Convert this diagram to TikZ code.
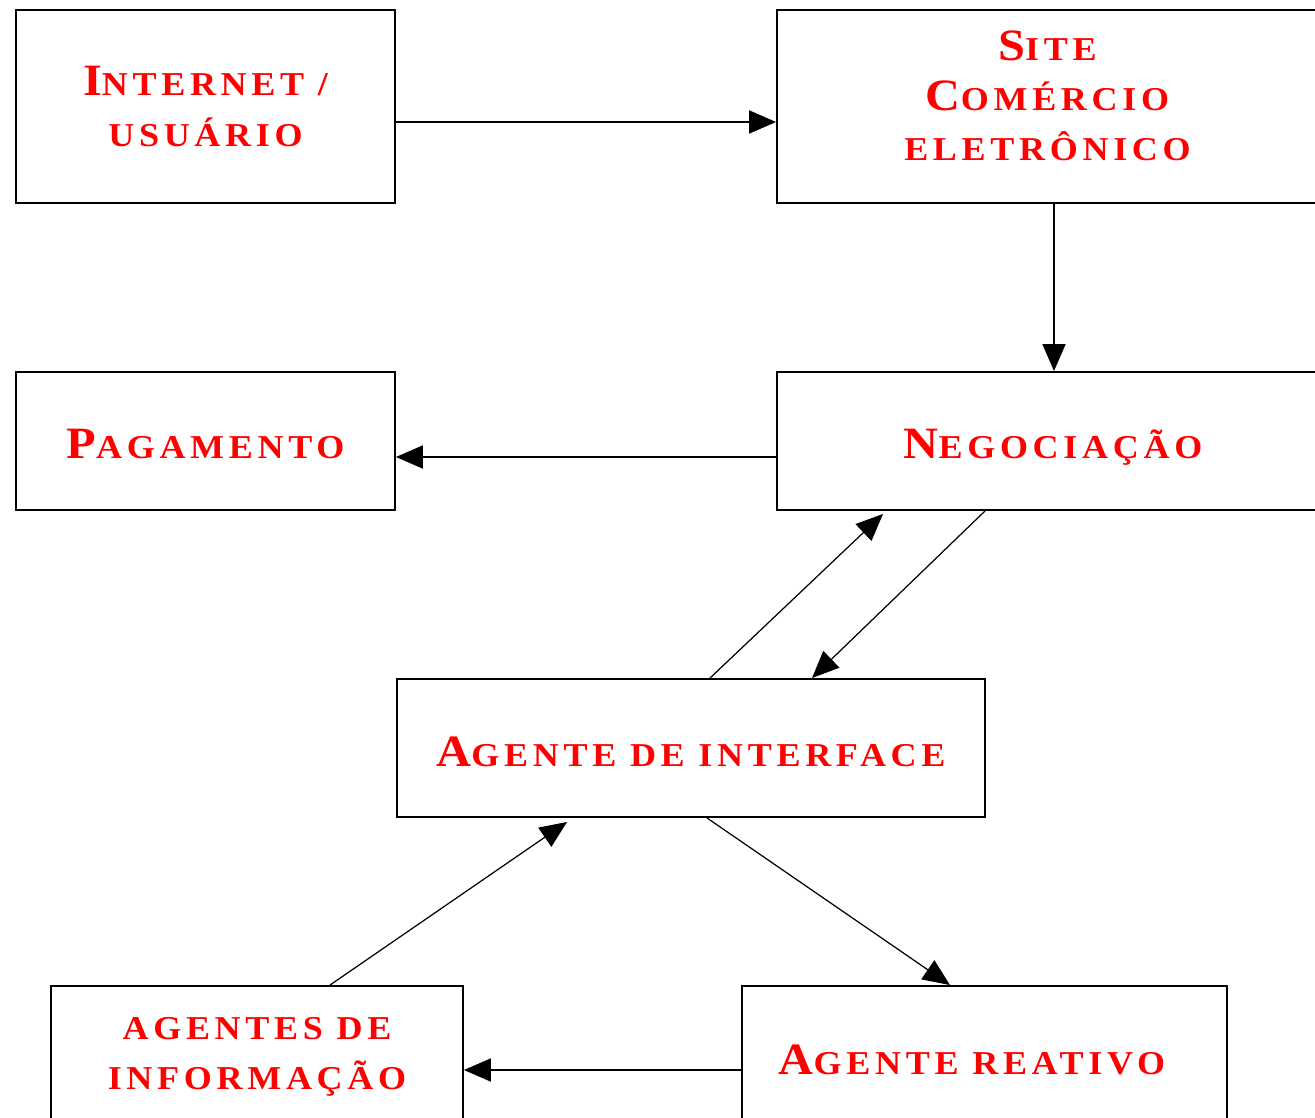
\documentclass[tikz,border=0pt]{standalone}
\usepackage{fontspec}
\newfontfamily\caixafont{Liberation Serif}[LetterSpace=14, FakeStretch=1.08]
\newcommand{\inicial}[1]{{\fontsize{25.5}{28.5}\selectfont #1}}
\usetikzlibrary{arrows.meta, positioning}

\begin{document}
\begin{tikzpicture}[x=0.02cm, y=-0.02cm,
    caixa/.style={rectangle, draw=black, line width=1.1pt, align=center, text=red, inner sep=0pt, font=\caixafont\bfseries\fontsize{19}{28.5}\selectfont},
    seta/.style={-{Triangle[length=0.54cm, width=0.46cm]}, line width=1.1pt},
    setafina/.style={seta, line width=0.7pt}
]
\useasboundingbox (0,0) rectangle (1315,1118);

% Comercio eletronico
\node[caixa, minimum width=7.58cm, minimum height=3.86cm] (internet) at (205.5,106.5) {\inicial{I}NTERNET /\\USUÁRIO};
\node[caixa, minimum width=10.82cm, minimum height=3.86cm, text depth=0.44cm] (site) at (1047.5,106.5) {\inicial{S}ITE\\\inicial{C}OMÉRCIO\\ELETRÔNICO};
\node[caixa, minimum width=7.58cm, minimum height=2.76cm, text height=0.72cm, text depth=0pt] (pagamento) at (205.5,441) {\inicial{P}AGAMENTO};
\node[caixa, minimum width=10.82cm, minimum height=2.76cm, text height=0.72cm, text depth=0pt] (negociacao) at (1047.5,441) {\hspace*{0.22cm}\inicial{N}EGOCIAÇÃO};

% Agentes
\node[caixa, minimum width=11.76cm, minimum height=2.76cm, text height=0.76cm, text depth=0pt] (interface) at (691,748) {\inicial{A}GENTE DE INTERFACE};
\node[caixa, minimum width=8.24cm, minimum height=2.84cm] (informacao) at (257,1057) {AGENTES DE\\INFORMAÇÃO};
\node[caixa, minimum width=9.7cm, minimum height=2.84cm, text height=0.68cm, text depth=0pt] (reativo) at (984.5,1057) {\inicial{A}GENTE REATIVO\hspace*{0.5cm}};

% Ligacoes
\draw[seta] ([yshift=-0.31cm]internet.east) -- ([yshift=-0.31cm]site.west);
\draw[seta] ([xshift=0.13cm]site.south) -- ([xshift=0.13cm]negociacao.north);
\draw[seta] ([yshift=-0.32cm]negociacao.west) -- ([yshift=-0.32cm]pagamento.east);
\draw[setafina] ([xshift=0.38cm]interface.north) -- ([xshift=-3.29cm, yshift=-0.06cm]negociacao.south);
\draw[setafina] ([xshift=-1.25cm]negociacao.south) -- ([xshift=2.42cm]interface.north);
\draw[setafina] ([xshift=0.32cm]interface.south) -- ([xshift=-0.69cm]reativo.north);
\draw[setafina] ([xshift=1.46cm]informacao.north) -- ([xshift=-2.48cm, yshift=-0.08cm]interface.south);
\draw[seta] ([yshift=-0.26cm]reativo.west) -- ([yshift=-0.26cm]informacao.east);

\end{tikzpicture}
\end{document}
